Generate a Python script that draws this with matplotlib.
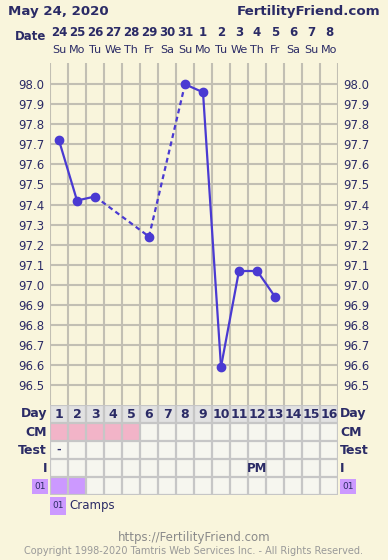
import numpy as np
import matplotlib
matplotlib.use('Agg')
import matplotlib.pyplot as plt
from matplotlib.patches import Rectangle

# chart data
dates = ['24', '25', '26', '27', '28', '29', '30', '31', '1', '2', '3', '4', '5', '6', '7', '8']
weekdays = ['Su', 'Mo', 'Tu', 'We', 'Th', 'Fr', 'Sa', 'Su', 'Mo', 'Tu', 'We', 'Th', 'Fr', 'Sa', 'Su', 'Mo']
days = list(range(1, 17))
temps = [97.72, 97.42, 97.44, np.nan, np.nan, 97.24, np.nan, 98.00, 97.96, 96.59, 97.07, 97.07, 96.94,
         np.nan, np.nan, np.nan]
yticks = [98.0, 97.9, 97.8, 97.7, 97.6, 97.5, 97.4, 97.3, 97.2, 97.1, 97.0, 96.9, 96.8, 96.7, 96.6, 96.5]
cm_days = [1, 2, 3, 4, 5]
test_marks = {1: '-'}
i_marks = {12: 'PM'}
cramps_days = [1, 2]

BG = '#f9f5dc'
NAVY = '#2b2b66'
GRID = '#c2bfb3'
LINE = '#4a3ad2'
CELL = '#f6f6ef'
DAYROW = '#e2e2e2'
PINK = '#f2b4c8'
PURPLE = '#cc99ff'
NARROW = ['Liberation Sans Narrow', 'DejaVu Sans']

W, H = 388, 560


def rect(l, t, r, b):
    return [l / W, 1 - b / H, (r - l) / W, (b - t) / H]


fig = plt.figure(figsize=(W / 100, H / 100), dpi=100, facecolor=BG)

# ---- temperature chart ----
ax = fig.add_axes(rect(50, 63, 338, 405))
ax.set_facecolor(BG)
ax.set_xlim(0.5, 16.5)
ax.set_ylim(96.40, 98.106)
for s in ax.spines.values():
    s.set_visible(False)
ax.vlines(np.arange(0.5, 17), 96.40, 98.106, color=GRID, lw=1.5, zorder=1)
ax.hlines(yticks, 0.5, 16.5, color=GRID, lw=1.5, zorder=1)
ax.set_xticks([])
ax.set_yticks(yticks)
ax.set_yticklabels(['%.1f' % v for v in yticks])
ax.tick_params(axis='y', length=0, pad=4, labelsize=8.5, labelcolor=NAVY,
               labelleft=True, labelright=True)

valid = [i for i, t in enumerate(temps) if not np.isnan(t)]
for a, b in zip(valid[:-1], valid[1:]):
    ls = '-' if b == a + 1 else (0, (2.2, 1.6))
    ax.plot([days[a], days[b]], [temps[a], temps[b]], color=LINE, lw=1.6, ls=ls, zorder=3)
ax.plot([days[i] for i in valid], [temps[i] for i in valid], 'o', color=LINE, ms=6, zorder=4)

# header
xt = ax.get_xaxis_transform()
fig.text(8 / W, 1 - 11 / H, 'May 24, 2020', fontsize=9.6, fontweight='bold', color=NAVY, va='center')
fig.text(380 / W, 1 - 11 / H, 'FertilityFriend.com', fontsize=9.6, fontweight='bold', color=NAVY,
         va='center', ha='right')
fig.text(46 / W, 1 - 36 / H, 'Date', fontsize=8.5, fontweight='bold', color=NAVY, va='center', ha='right')
for d, lab, wd in zip(days, dates, weekdays):
    ax.text(d, (405 - 32) / 342, lab, transform=xt, ha='center', va='center', fontsize=8.5,
            fontweight='bold', color=NAVY)
    ax.text(d, (405 - 50) / 342, wd, transform=xt, ha='center', va='center', fontsize=8, color=NAVY)

# ---- table ----
tab = fig.add_axes(rect(50, 405, 338, 495))
tab.set_xlim(0.5, 16.5)
tab.set_ylim(5, 0)
tab.axis('off')
for d in days:
    for r in range(5):
        fc = CELL
        if r == 0:
            fc = DAYROW
        elif r == 1 and d in cm_days:
            fc = PINK
        elif r == 4 and d in cramps_days:
            fc = PURPLE
        tab.add_patch(Rectangle((d - 0.5, r), 1, 1, facecolor=fc, edgecolor='none', zorder=1))
    tab.text(d, 0.52, str(d), ha='center', va='center', fontsize=9, fontweight='bold', color=NAVY)
for d, m in test_marks.items():
    tab.text(d, 2.5, m, ha='center', va='center', fontsize=8, fontweight='bold', color=NAVY)
for d, m in i_marks.items():
    tab.text(d, 3.5, m, ha='center', va='center', fontsize=8.5, fontweight='bold', color=NAVY,
             family=NARROW)
tab.vlines(np.arange(0.5, 17), 0, 5, color='#c6c6c6', lw=1.6, zorder=2)
tab.hlines(np.arange(0, 6), 0.5, 16.5, color='#c6c6c6', lw=1.6, zorder=2)

row_labels = ['Day', 'CM', 'Test', 'I']
for r, lab in enumerate(row_labels):
    yy = 1 - (405 + 18 * r + 9) / H
    if r == 0:
        kw = dict(fontsize=9, fontweight='bold', color=NAVY, va='center')
    else:
        kw = dict(fontsize=9, fontweight='bold', color=NAVY, va='center', family=NARROW)
    fig.text(47 / W, yy, lab, ha='right', **kw)
    fig.text(340 / W, yy, lab, ha='left', **kw)

# cramps symptom row markers
for l in (32, 340):
    fig.patches.append(Rectangle((l / W, 1 - 494 / H), 16 / W, 15 / H, transform=fig.transFigure,
                                 facecolor=PURPLE, edgecolor='none'))
    fig.text((l + 8) / W, 1 - 486.5 / H, '01', fontsize=6.5, color=NAVY, ha='center', va='center')
fig.patches.append(Rectangle((50 / W, 1 - 515 / H), 16 / W, 18 / H, transform=fig.transFigure,
                             facecolor=PURPLE, edgecolor='none'))
fig.text(58 / W, 1 - 506 / H, '01', fontsize=6.5, color=NAVY, ha='center', va='center')
fig.text(69 / W, 1 - 505 / H, 'Cramps', fontsize=8.5, color=NAVY, ha='left', va='center')

# footer
fig.text(0.5, 1 - 538 / H, 'https://FertilityFriend.com', fontsize=8.5, color='#8a8a8a',
         ha='center', va='center')
fig.text(0.5, 1 - 551 / H, 'Copyright 1998-2020 Tamtris Web Services Inc. - All Rights Reserved.',
         fontsize=7, color='#999999', ha='center', va='center')

fig.savefig('out.png', dpi=100, facecolor=BG)
